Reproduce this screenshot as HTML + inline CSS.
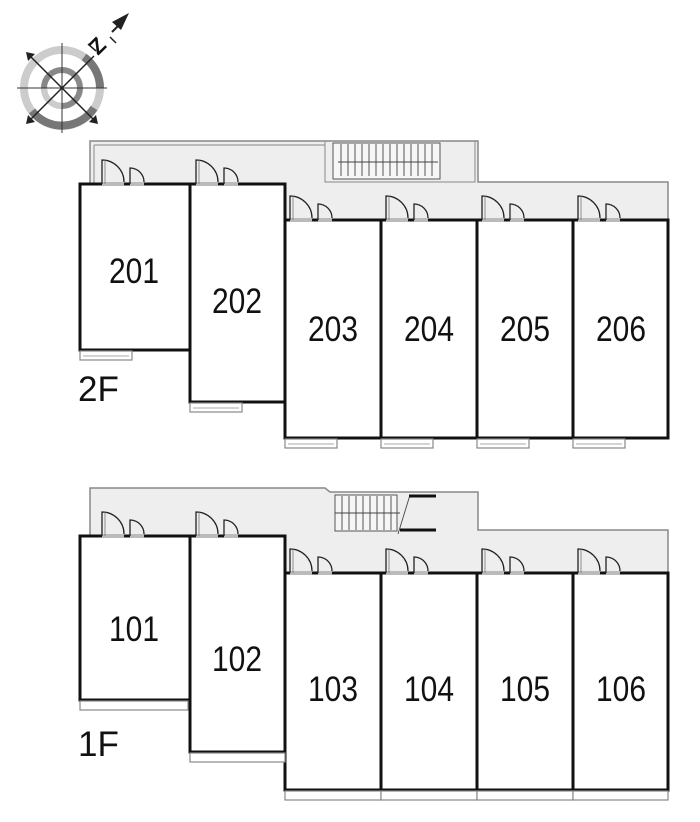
<!DOCTYPE html>
<html><head><meta charset="utf-8"><style>
html,body{margin:0;padding:0;background:#fff;}
svg{display:block}
text{font-family:"Liberation Sans",sans-serif;font-size:35px;fill:#111;}
</style></head><body>
<svg width="700" height="822" viewBox="0 0 700 822" xmlns="http://www.w3.org/2000/svg">
<defs>
 <g id="db"><rect x="0" y="-2" width="22" height="4" fill="#bbb"/><path d="M0,0 V-24 A22,22 0 0 1 22,-2" fill="none" stroke="#222" stroke-width="1.3"/><line x1="3" y1="0" x2="3" y2="-24" stroke="#777" stroke-width="0.8"/></g>
 <g id="ds"><rect x="0" y="-2" width="14" height="4" fill="#bbb"/><path d="M0,0 V-16 A14,14 0 0 1 14,-2" fill="none" stroke="#222" stroke-width="1.3"/></g>
 <g id="bal"><rect x="0" y="0" width="52" height="9" fill="#fff" stroke="#888" stroke-width="1.2"/><line x1="3" y1="5" x2="49" y2="5" stroke="#aaa"/></g>
</defs>

<!-- compass -->
<g transform="translate(62,88)">
 <circle r="38" fill="none" stroke="#ccc" stroke-width="8"/>
 <path d="M-30,23 A38,38 0 0 0 32,20" fill="none" stroke="#777" stroke-width="8"/>
 <path d="M22,-31 A38,38 0 0 1 38,0" fill="none" stroke="#777" stroke-width="8"/>
 <circle r="18" fill="none" stroke="#888" stroke-width="6"/>
 <path d="M-18,0 A18,18 0 0 0 0,18" fill="none" stroke="#ccc" stroke-width="6"/>
 <line x1="-45" y1="0" x2="45" y2="0" stroke="#333" stroke-width="1"/>
 <line x1="0" y1="-45" x2="0" y2="45" stroke="#333" stroke-width="1"/>
 <line x1="-34" y1="-34" x2="34" y2="34" stroke="#222" stroke-width="1.5"/>
 <line x1="-32" y1="32" x2="32" y2="-32" stroke="#222" stroke-width="1.5"/>
 <polygon points="-36,-36 -27,-34 -34,-27" fill="#222"/>
 <polygon points="36,36 27,34 34,27" fill="#222"/>
 <polygon points="-36,36 -27,34 -34,27" fill="#222"/>
</g>
<line x1="88" y1="44" x2="96" y2="51" stroke="#222" stroke-width="1.5"/>
<line x1="110" y1="37" x2="116" y2="43" stroke="#222" stroke-width="1.5"/>
<text x="0" y="0" transform="translate(98,56) rotate(-45)" style="font-size:22px;font-weight:bold">Z</text>
<line x1="112" y1="32" x2="124" y2="20" stroke="#222" stroke-width="2"/>
<polygon points="129,13 112,22 121,30" fill="#222"/>

<!-- 2F corridor -->
<polygon points="90,141 478,141 478,182 668,182 668,220 285,220 285,184 90,184" fill="#eee" stroke="#888" stroke-width="1.5"/>
<line x1="94" y1="145" x2="94" y2="184" stroke="#888" stroke-width="1"/>
<line x1="94" y1="145" x2="325" y2="145" stroke="#888" stroke-width="1"/>
<polyline points="325,141 325,182 475,182 475,141" fill="none" stroke="#888" stroke-width="1"/>
<rect x="333" y="143" width="107" height="36" fill="#f6f6f6" stroke="#555" stroke-width="1"/>
<g stroke="#444" stroke-width="0.9">
 <line x1="338" y1="162" x2="438" y2="162"/>
 <line x1="341" y1="144" x2="341" y2="176"/><line x1="348" y1="144" x2="348" y2="176"/><line x1="355" y1="144" x2="355" y2="176"/><line x1="362" y1="144" x2="362" y2="176"/><line x1="369" y1="144" x2="369" y2="176"/><line x1="376" y1="144" x2="376" y2="176"/><line x1="383" y1="144" x2="383" y2="176"/><line x1="390" y1="144" x2="390" y2="176"/><line x1="397" y1="144" x2="397" y2="176"/><line x1="404" y1="144" x2="404" y2="176"/><line x1="411" y1="144" x2="411" y2="176"/><line x1="418" y1="144" x2="418" y2="176"/><line x1="425" y1="144" x2="425" y2="176"/><line x1="432" y1="144" x2="432" y2="176"/>
</g>
<!-- 2F units -->
<g fill="#fff" stroke="#111" stroke-width="3">
 <rect x="80" y="184" width="110" height="166"/>
 <rect x="190" y="184" width="95" height="218"/>
 <rect x="285" y="220" width="96" height="218"/>
 <rect x="381" y="220" width="96" height="218"/>
 <rect x="477" y="220" width="96" height="218"/>
 <rect x="573" y="220" width="95" height="218"/>
</g>
<use href="#bal" x="80" y="351"/><use href="#bal" x="190" y="403"/>
<use href="#bal" x="285" y="439"/><use href="#bal" x="381" y="439"/><use href="#bal" x="477" y="439"/><use href="#bal" x="573" y="439"/>
<use href="#db" x="102" y="184"/><use href="#ds" x="130" y="184"/>
<use href="#db" x="196" y="184"/><use href="#ds" x="224" y="184"/>
<use href="#db" x="290" y="220"/><use href="#ds" x="318" y="220"/>
<use href="#db" x="386" y="220"/><use href="#ds" x="414" y="220"/>
<use href="#db" x="482" y="220"/><use href="#ds" x="510" y="220"/>
<use href="#db" x="578" y="220"/><use href="#ds" x="606" y="220"/>
<g text-anchor="middle">
 <text x="134" y="283" textLength="50" lengthAdjust="spacingAndGlyphs">201</text><text x="237" y="313" textLength="50" lengthAdjust="spacingAndGlyphs">202</text>
 <text x="333" y="341" textLength="50" lengthAdjust="spacingAndGlyphs">203</text><text x="429" y="341" textLength="50" lengthAdjust="spacingAndGlyphs">204</text><text x="525" y="341" textLength="50" lengthAdjust="spacingAndGlyphs">205</text><text x="621" y="341" textLength="50" lengthAdjust="spacingAndGlyphs">206</text>
</g>
<text x="78" y="401">2F</text>

<!-- 1F corridor -->
<polygon points="90,488 325,488 330,492 478,492 478,530 668,530 668,573 285,573 285,536 90,536" fill="#eee" stroke="#888" stroke-width="1.5"/>
<rect x="335" y="495" width="62" height="36" fill="#f6f6f6" stroke="#555" stroke-width="1"/>
<g stroke="#444" stroke-width="0.9">
 <line x1="335" y1="513" x2="400" y2="513"/>
 <line x1="342" y1="496" x2="342" y2="530"/><line x1="349" y1="496" x2="349" y2="530"/><line x1="356" y1="496" x2="356" y2="530"/><line x1="363" y1="496" x2="363" y2="530"/><line x1="370" y1="496" x2="370" y2="530"/><line x1="377" y1="496" x2="377" y2="530"/><line x1="384" y1="496" x2="384" y2="530"/><line x1="391" y1="496" x2="391" y2="530"/>
 <line x1="410" y1="495" x2="398" y2="534"/>
</g>
<line x1="409" y1="496" x2="436" y2="496" stroke="#111" stroke-width="3"/>
<line x1="400" y1="530" x2="436" y2="530" stroke="#111" stroke-width="3"/>
<!-- 1F units -->
<g fill="#fff" stroke="#111" stroke-width="3">
 <rect x="80" y="536" width="110" height="164"/>
 <rect x="190" y="536" width="95" height="216"/>
 <rect x="285" y="573" width="96" height="217"/>
 <rect x="381" y="573" width="96" height="217"/>
 <rect x="477" y="573" width="96" height="217"/>
 <rect x="573" y="573" width="95" height="217"/>
</g>
<rect x="80" y="701" width="108" height="9" fill="#fff" stroke="#888" stroke-width="1.2"/>
<rect x="190" y="753" width="95" height="9" fill="#fff" stroke="#888" stroke-width="1.2"/>
<rect x="285" y="791" width="96" height="9" fill="#fff" stroke="#888" stroke-width="1.2"/>
<rect x="381" y="791" width="96" height="9" fill="#fff" stroke="#888" stroke-width="1.2"/>
<rect x="477" y="791" width="96" height="9" fill="#fff" stroke="#888" stroke-width="1.2"/>
<rect x="573" y="791" width="95" height="9" fill="#fff" stroke="#888" stroke-width="1.2"/>
<use href="#db" x="102" y="536"/><use href="#ds" x="130" y="536"/>
<use href="#db" x="196" y="536"/><use href="#ds" x="224" y="536"/>
<use href="#db" x="290" y="573"/><use href="#ds" x="318" y="573"/>
<use href="#db" x="386" y="573"/><use href="#ds" x="414" y="573"/>
<use href="#db" x="482" y="573"/><use href="#ds" x="510" y="573"/>
<use href="#db" x="578" y="573"/><use href="#ds" x="606" y="573"/>
<g text-anchor="middle">
 <text x="134" y="641" textLength="50" lengthAdjust="spacingAndGlyphs">101</text><text x="237" y="671" textLength="50" lengthAdjust="spacingAndGlyphs">102</text>
 <text x="333" y="701" textLength="50" lengthAdjust="spacingAndGlyphs">103</text><text x="429" y="701" textLength="50" lengthAdjust="spacingAndGlyphs">104</text><text x="525" y="701" textLength="50" lengthAdjust="spacingAndGlyphs">105</text><text x="621" y="701" textLength="50" lengthAdjust="spacingAndGlyphs">106</text>
</g>
<text x="78" y="756">1F</text>
</svg>
</body></html>
